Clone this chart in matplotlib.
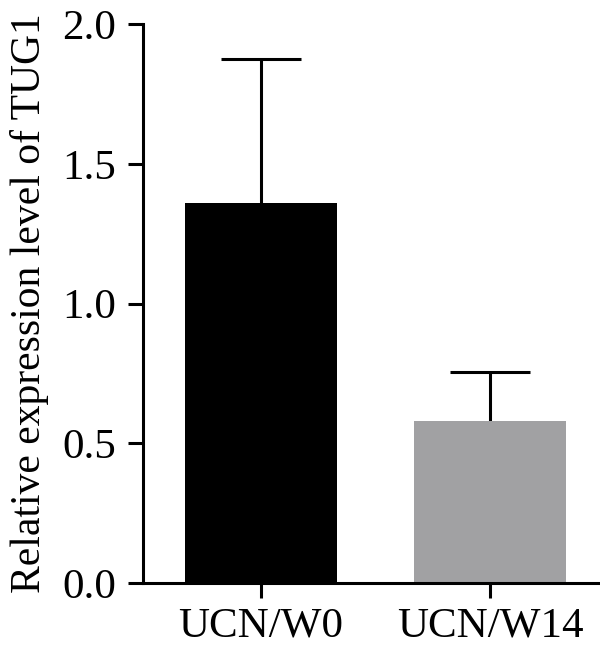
import matplotlib
matplotlib.use("Agg")
import matplotlib.pyplot as plt

groups = ["UCN/W0", "UCN/W14"]
means = [1.36, 0.58]
errs = [0.515, 0.175]
colors = ["#000000", "#a1a1a3"]

plt.rcParams['font.family'] = ['Liberation Serif', 'DejaVu Serif']

fig = plt.figure(figsize=(6, 6.5), dpi=100)
ax = fig.add_axes([0.238, 0.103, 0.762, 0.86])

x = range(len(groups))
ax.bar(x, means, width=0.664, color=colors, zorder=2)
_, caps, _ = ax.errorbar(x, means, yerr=[[0, 0], errs], fmt='none', ecolor='black',
                         elinewidth=2.2, capsize=28.8, capthick=2.2, zorder=1)
# only the upper caps
caps[0].set_visible(False)

ax.set_ylim(0, 2.0)
ax.set_xlim(-0.515, 1.48)
ax.set_yticks([0.0, 0.5, 1.0, 1.5, 2.0])
ax.set_yticklabels(["0.0", "0.5", "1.0", "1.5", "2.0"])
ax.set_xticks(list(x))
ax.set_xticklabels(groups)

for s in ["top", "right"]:
    ax.spines[s].set_visible(False)
for s in ["left", "bottom"]:
    ax.spines[s].set_linewidth(2.2)

ax.tick_params(axis='both', length=11, width=2.2, labelsize=31, direction='out')
ax.tick_params(axis='y', pad=8)
ax.tick_params(axis='x', pad=6)
ax.set_ylabel("Relative expression level of TUG1", fontsize=30, labelpad=10)

fig.savefig("out.png", dpi=100)
